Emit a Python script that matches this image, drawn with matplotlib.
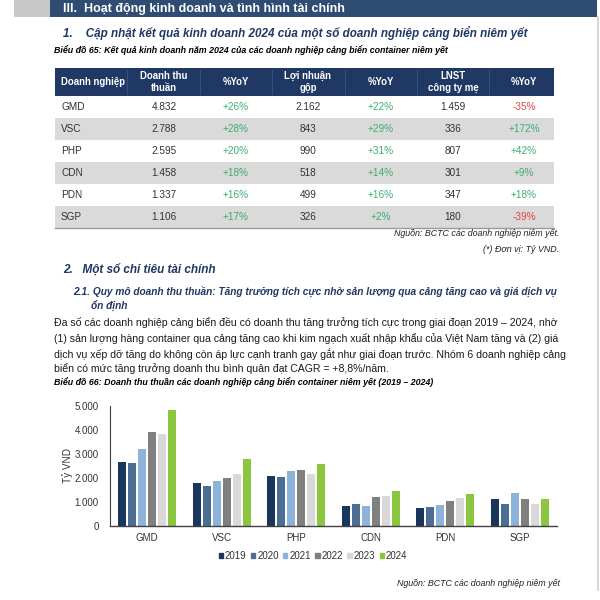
import matplotlib
matplotlib.use("Agg")
import matplotlib.pyplot as plt
from matplotlib.patches import Rectangle, Patch

plt.rcParams["font.family"] = ["Liberation Sans", "DejaVu Sans"]

# Table data: 2024 business results (Tỷ VND)
companies = ["GMD", "VSC", "PHP", "CDN", "PDN", "SGP"]
net_revenue = [4832, 2788, 2595, 1458, 1337, 1106]
revenue_yoy = [26, 28, 20, 18, 16, 17]
gross_profit = [2162, 843, 990, 518, 499, 326]
gross_profit_yoy = [22, 29, 31, 14, 16, 2]
npat_parent = [1459, 336, 807, 301, 347, 180]
npat_yoy = [-35, 172, 42, 9, 18, -39]

# Chart data: net revenue 2019 - 2024
years = ["2019", "2020", "2021", "2022", "2023", "2024"]
rev_2019 = [2640, 1780, 2090, 820, 740, 1110]
rev_2020 = [2600, 1680, 2020, 900, 790, 910]
rev_2021 = [3200, 1880, 2270, 820, 870, 1360]
rev_2022 = [3890, 2000, 2340, 1190, 1050, 1110]
rev_2023 = [3840, 2180, 2150, 1230, 1160, 930]
rev_2024 = net_revenue
year_colors = ["#1B365D", "#4B6E92", "#8DB3DB", "#808080", "#D9D9D9", "#8CC63F"]

NAVY = "#1F3864"
GREEN = "#3DAE6E"
RED = "#E0434A"


def vn_num(v):
    return f"{int(v):,}".replace(",", ".")


def pct(v):
    return f"{v:+d}%"


fig = plt.figure(figsize=(6, 6), dpi=100)
page = fig.add_axes([0, 0, 1, 1])
page.set_xlim(0, 600)
page.set_ylim(600, 0)
page.axis("off")

# top banner
page.add_patch(Rectangle((14, 0), 36, 17, color="#C8C8C8", lw=0))
page.add_patch(Rectangle((50, 0), 547, 17, color="#2F4C73", lw=0))
page.plot([597.5, 597.5], [17, 590], color="#D0D0D0", lw=1.2)
page.text(63, 9, "III.  Hoạt động kinh doanh và tình hình tài chính", color="white",
          fontsize=9.0, fontweight="bold", va="center")

page.text(63, 33, "1.    Cập nhật kết quả kinh doanh 2024 của một số doanh nghiệp cảng biển niêm yết",
          color=NAVY, fontsize=8.4, fontweight="bold", style="italic", va="center")
page.text(54, 50, "Biểu đồ 65: Kết quả kinh doanh năm 2024 của các doanh nghiệp cảng biển container niêm yết",
          color="black", fontsize=6.4, fontweight="bold", style="italic", va="center")

# table
tbl_left, tbl_right = 55, 554
head_top, head_bot = 68, 96
row_h = 22
page.add_patch(Rectangle((tbl_left, head_top), tbl_right - tbl_left, head_bot - head_top, color=NAVY, lw=0))
col_x = [61, 164, 236, 308, 381, 453, 524]
for bx in (127, 200, 272, 345, 417, 489):
    page.plot([bx, bx], [head_top + 2, head_bot - 2], color="#3B5683", lw=0.6)
headers = ["Doanh nghiệp", "Doanh thu\nthuần", "%YoY", "Lợi nhuận\ngộp", "%YoY", "LNST\ncông ty mẹ", "%YoY"]
for i, h in enumerate(headers):
    page.text(col_x[i], (head_top + head_bot) / 2, h, color="white", fontsize=6.9, fontweight="bold",
              ha="left" if i == 0 else "center", va="center", linespacing=1.3)

for r, name in enumerate(companies):
    y0 = head_bot + r * row_h
    if r % 2 == 1:
        page.add_patch(Rectangle((tbl_left, y0), tbl_right - tbl_left, row_h, color="#DADADA", lw=0))
    yc = y0 + row_h / 2
    cells = [name, vn_num(net_revenue[r]), pct(revenue_yoy[r]), vn_num(gross_profit[r]),
             pct(gross_profit_yoy[r]), vn_num(npat_parent[r]), pct(npat_yoy[r])]
    for i, c in enumerate(cells):
        color = "#333333"
        if i in (2, 4, 6):
            color = RED if c.startswith("-") else GREEN
        page.text(col_x[i], yc, c, color=color, fontsize=7.2,
                  ha="left" if i == 0 else "center", va="center")
tbl_bot = head_bot + len(companies) * row_h
page.plot([tbl_left, tbl_right], [tbl_bot, tbl_bot], color="#9A9A9A", lw=1)

page.text(559, 233, "Nguồn: BCTC các doanh nghiệp niêm yết.", fontsize=6.4, style="italic",
          color="#222222", ha="right", va="center")
page.text(559, 249, "(*) Đơn vị: Tỷ VND.", fontsize=6.4, style="italic",
          color="#222222", ha="right", va="center")

page.text(63, 270, "2.   Một số chỉ tiêu tài chính", color=NAVY, fontsize=8.5,
          fontweight="bold", style="italic", va="center")
page.text(73, 291, "2.1. Quy mô doanh thu thuần: Tăng trưởng tích cực nhờ sản lượng qua cảng tăng cao và giá dịch vụ",
          color=NAVY, fontsize=7.3, fontweight="bold", style="italic", va="center")
page.text(91, 306, "ổn định", color=NAVY, fontsize=7.3, fontweight="bold", style="italic", va="center")

paragraph = [
    "Đa số các doanh nghiệp cảng biển đều có doanh thu tăng trưởng tích cực trong giai đoạn 2019 – 2024, nhờ",
    "(1) sản lượng hàng container qua cảng tăng cao khi kim ngạch xuất nhập khẩu của Việt Nam tăng và (2) giá",
    "dịch vụ xếp dỡ tăng do không còn áp lực cạnh tranh gay gắt như giai đoạn trước. Nhóm 6 doanh nghiệp cảng",
    "biển có mức tăng trưởng doanh thu bình quân đạt CAGR = +8,8%/năm.",
]
for k, line in enumerate(paragraph):
    page.text(54, 323 + k * 15.3, line, fontsize=7.6, color="#1A1A1A", va="center")

page.text(54, 382, "Biểu đồ 66: Doanh thu thuần các doanh nghiệp cảng biển container niêm yết (2019 – 2024)",
          color="black", fontsize=6.4, fontweight="bold", style="italic", va="center")

# bar chart
ax = fig.add_axes([110 / 600, 1 - 526 / 600, (557 - 110) / 600, (526 - 405.7) / 600])
series = [rev_2019, rev_2020, rev_2021, rev_2022, rev_2023, rev_2024]
pitch = 0.134
width = 0.108
xs = range(len(companies))
for j, (yr, vals, col) in enumerate(zip(years, series, year_colors)):
    offs = [x + (j - 2.5) * pitch for x in xs]
    ax.bar(offs, vals, width, color=col, label=yr)

ax.set_xlim(-0.5, len(companies) - 0.5)
ax.set_ylim(0, 5000)
ax.set_yticks(range(0, 5001, 1000))
ax.set_yticklabels([vn_num(v) for v in range(0, 5001, 1000)])
ax.set_xticks(list(xs))
ax.set_xticklabels(companies)
ax.tick_params(axis="both", length=0, labelsize=7, colors="#333333", pad=5)
ax.tick_params(axis="y", pad=8)
for s in ("top", "right"):
    ax.spines[s].set_visible(False)
ax.spines["left"].set_color("#404040")
ax.spines["bottom"].set_color("#404040")
ax.spines["left"].set_linewidth(0.8)
ax.spines["bottom"].set_linewidth(1.0)
ax.set_ylabel("Tỷ VND", fontsize=7.2, color="#333333")
ax.yaxis.set_label_coords(-0.083, 0.5)

handles = [Patch(color=c, label=y) for y, c in zip(years, year_colors)]
fig.legend(handles=handles, loc="center", bbox_to_anchor=(313 / 600, 1 - 556 / 600), ncol=6,
           frameon=False, fontsize=7, handlelength=0.45, handleheight=0.45, handletextpad=0.2,
           columnspacing=0.45, labelcolor="#333333")

page.text(560, 583, "Nguồn: BCTC các doanh nghiệp niêm yết", fontsize=6.4, style="italic",
          color="#222222", ha="right", va="center")

fig.savefig("out.png", dpi=100, facecolor="white")
